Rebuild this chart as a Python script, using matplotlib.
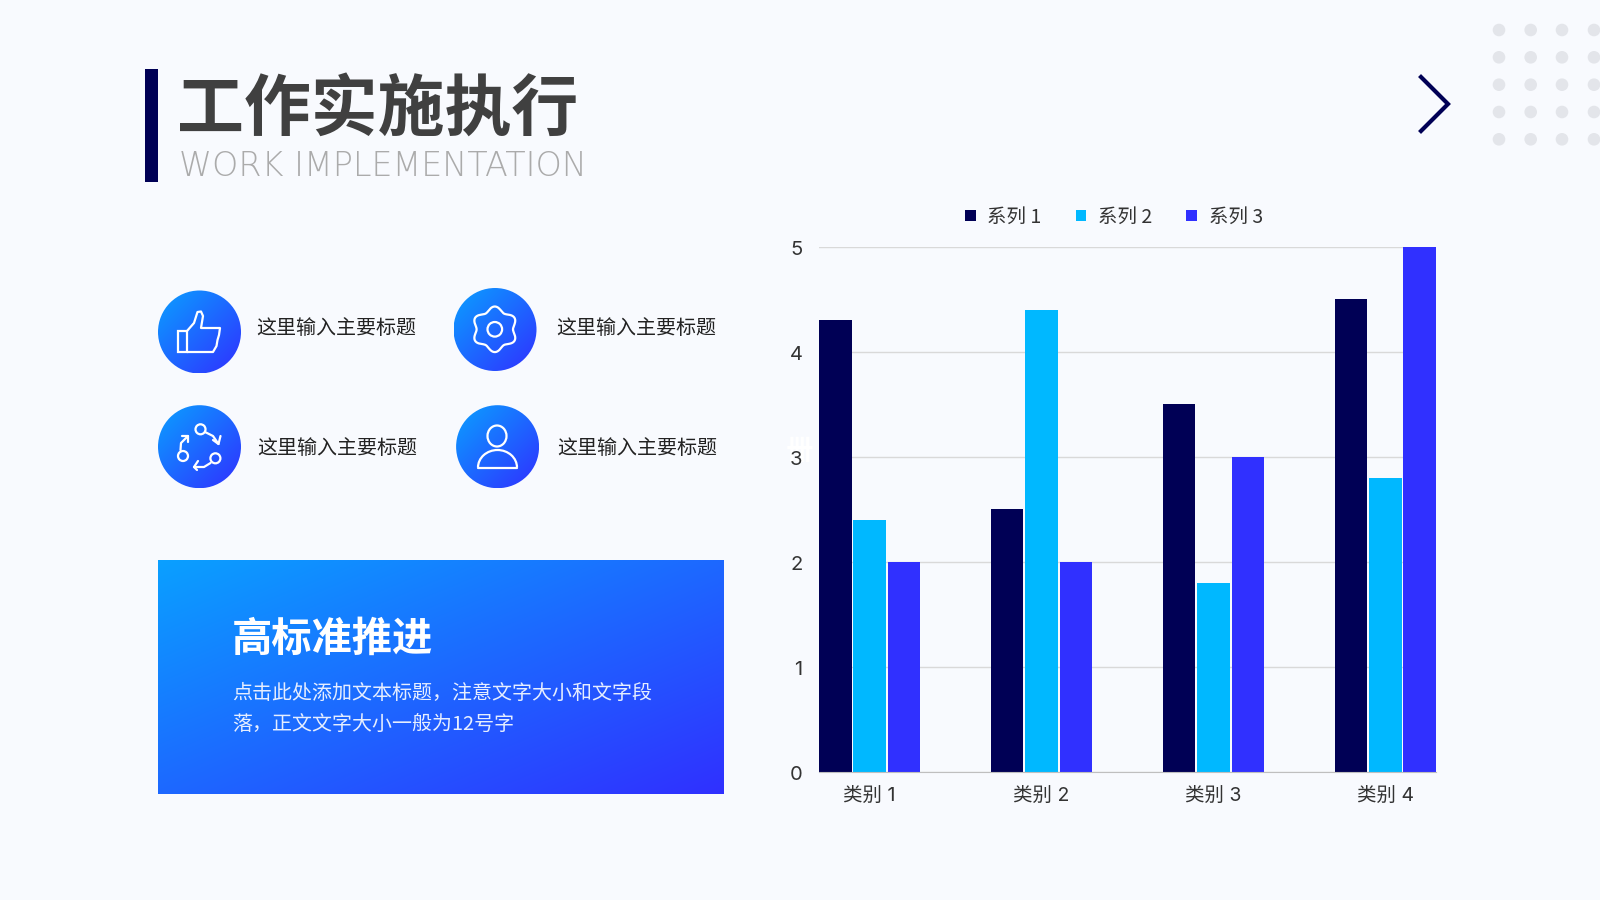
import numpy as np
import matplotlib
matplotlib.use('Agg')
import matplotlib.pyplot as plt
from matplotlib.patches import Circle, Rectangle, Ellipse, Arc
from matplotlib.transforms import ScaledTranslation

plt.rcParams['font.family'] = ['Inter', 'Noto Sans CJK SC', 'DejaVu Sans']

# chart data
categories = ['类别 1', '类别 2', '类别 3', '类别 4']
series_names = ['系列 1', '系列 2', '系列 3']
series_1 = [4.3, 2.5, 3.5, 4.5]
series_2 = [2.4, 4.4, 1.8, 2.8]
series_3 = [2.0, 2.0, 3.0, 5.0]
y_ticks = [0, 1, 2, 3, 4, 5]

# page text
title = '工作实施执行'
subtitle = 'WORK IMPLEMENTATION'
item_label = '这里输入主要标题'
box_title = '高标准推进'
box_lines = ['点击此处添加文本标题，注意文字大小和文字段', '落，正文文字大小一般为12号字']

BG = '#F8FAFE'
NAVY = '#000055'
CYAN = '#00B8FF'
BLUE = '#3030FF'
W, H = 1600, 900
ICON = dict(color='white', lw=1.6, solid_capstyle='round', solid_joinstyle='round')
CJK = ['Noto Sans CJK SC', 'DejaVu Sans']


def gradient(ax, x0, y0, x1, y1, clip):
    u, v = np.meshgrid(np.linspace(0, 1, 200), np.linspace(0, 1, 200))
    t = ((u + v) / 2)[..., None]
    c0 = np.array([10, 160, 255]) / 255
    c1 = np.array([48, 48, 255]) / 255
    im = ax.imshow(c0 * (1 - t) + c1 * t, extent=(x0, x1, y1, y0), aspect='auto', zorder=2)
    ax.add_patch(clip)
    im.set_clip_path(clip)


def circle_outline(ax, x, y, r):
    ax.add_patch(Circle((x, y), r, fill=False, ec='white', lw=1.6, zorder=4))


fig = plt.figure(figsize=(16, 9), dpi=100, facecolor=BG)
page = fig.add_axes([0, 0, 1, 1])
page.axis('off')

# header
page.add_patch(Rectangle((145, 69), 13, 113, color=NAVY, lw=0))
page.text(177, 110, title, fontsize=48.2, fontweight='bold', color='#404040', va='center', family=CJK)
page.text(179, 166, subtitle, fontsize=24, fontweight='light', color='#ABABAB', va='center', family=['DejaVu Sans'])

# chevron and dot grid
page.plot([1421, 1448, 1421], [77, 104, 131], color=NAVY, lw=3, solid_joinstyle='miter')
for dx in [1499, 1530.7, 1562, 1594]:
    for dy in [30, 57.3, 84.7, 112, 139.3]:
        page.add_patch(Circle((dx, dy), 6.3, color='#E3E5EA', lw=0))

# icon discs
centers = [(199.5, 332), (495, 329.5), (199.5, 446.7), (497.6, 446.7)]
for cx, cy in centers:
    gradient(page, cx - 41.5, cy - 41.5, cx + 41.5, cy + 41.5,
             Circle((cx, cy), 41.5, transform=page.transData, fc='none', lw=0))

# labels beside the discs
label_pos = [(256, 329), (556, 329), (257.3, 448), (557.3, 448)]
for lx, ly in label_pos:
    page.text(lx, ly, item_label, fontsize=14.4, color='#222222', va='center', family=CJK)

# thumb icon
page.add_patch(Rectangle((178, 331), 9, 21, fill=False, ec='white', lw=1.6, zorder=4))
thumb_x = [187, 194, 197.5, 201, 203, 201, 220, 219, 217.5, 216.5, 213, 187]
thumb_y = [331, 323, 312, 311.5, 316, 328, 328, 335, 340, 346, 352, 352]
page.plot(thumb_x, thumb_y, zorder=4, **ICON)

# gear icon
theta = np.linspace(0, 2 * np.pi, 240)
gear_r = 20.5 + 2.3 * np.cos(6 * (theta - np.pi / 2))
page.plot(494.8 + gear_r * np.cos(theta), 329.3 + gear_r * np.sin(theta), zorder=4, **ICON)
circle_outline(page, 494.8, 329.3, 7.3)

# cycle icon
for x, y in [(200.5, 429.3), (183, 456), (215.4, 458.3)]:
    circle_outline(page, x, y, 5)
arcs = [
    ([205, 213, 218.5], [432, 436, 444]),
    ([180.5, 181, 188], [450, 443, 436]),
    ([210.5, 204, 194], [463, 467, 467]),
]
heads = [
    ([220.5, 218.5, 213], [436, 444, 440]),
    ([181.5, 188, 188], [436, 436, 442]),
    ([198, 194, 197], [461, 467, 470]),
]
for (arc_x, arc_y), (hx, hy) in zip(arcs, heads):
    page.plot(arc_x, arc_y, zorder=4, **ICON)
    page.plot(hx, hy, zorder=4, **ICON)

# person icon
page.add_patch(Ellipse((497, 436), 19, 21, fill=False, ec='white', lw=1.6, zorder=4))
page.add_patch(Arc((497.5, 467.5), 39, 35, theta1=180, theta2=360, ec='white', lw=1.6, zorder=4))
page.plot([478, 517], [467.5, 467.5], zorder=4, **ICON)

# gradient box
gradient(page, 157.6, 560, 723, 794,
         Rectangle((157.6, 560), 565.4, 234, transform=page.transData, fc='none', lw=0))
page.text(232, 639, box_title, fontsize=29, fontweight='bold', color='white', va='center', zorder=5, family=CJK)
for ly, line in zip([693, 724], box_lines):
    page.text(232.5, ly, line, fontsize=14.4, color='#E6EEFF', va='center', zorder=5, family=CJK)

# stray white mark next to the axis
page.text(800, 452, '卌', fontsize=20, fontweight='bold', color='white', ha='center', va='center', zorder=1,
          family=CJK)

page.set_xlim(0, W)
page.set_ylim(H, 0)

# bar chart
ax = fig.add_axes([819 / W, 1 - 772 / H, 617 / W, 525 / H])
ax.patch.set_alpha(0)
x = np.arange(len(categories))
width = 0.189
offset = 0.1995
ax.bar(x - offset, series_1, width, color=NAVY, label=series_names[0])
ax.bar(x, series_2, width, color=CYAN, label=series_names[1])
ax.bar(x + offset, series_3, width, color=BLUE, label=series_names[2])
ax.set_xlim(-offset - width / 2, len(categories) - 1 + offset + width / 2)
ax.set_ylim(0, 5)
ax.set_xticks(x)
ax.set_xticklabels(categories)
ax.set_yticks(y_ticks)
ax.tick_params(length=0, labelsize=14, colors='#333333')
ax.tick_params(axis='y', labelsize=14.5, pad=12)
ax.tick_params(axis='x', pad=11)
ax.grid(axis='y', color='#D9D9D9', lw=1)
ax.set_axisbelow(True)
for side in ['top', 'left', 'right']:
    ax.spines[side].set_visible(False)
ax.spines['bottom'].set_color('#BFBFBF')
shift = ScaledTranslation(0, -0.9 / 72, fig.dpi_scale_trans)
for lab in ax.get_yticklabels():
    lab.set_transform(lab.get_transform() + shift)
leg = ax.legend(ncol=3, frameon=False, prop={'family': CJK, 'size': 14}, loc='center left',
                bbox_to_anchor=(965 / W, 1 - 217 / H), bbox_transform=fig.transFigure,
                handlelength=0.55, handleheight=0.55, handletextpad=0.6, columnspacing=1.75,
                borderpad=0, borderaxespad=0)
for t in leg.get_texts():
    t.set_color('#333333')

fig.savefig('out.png', dpi=100, facecolor=BG)
